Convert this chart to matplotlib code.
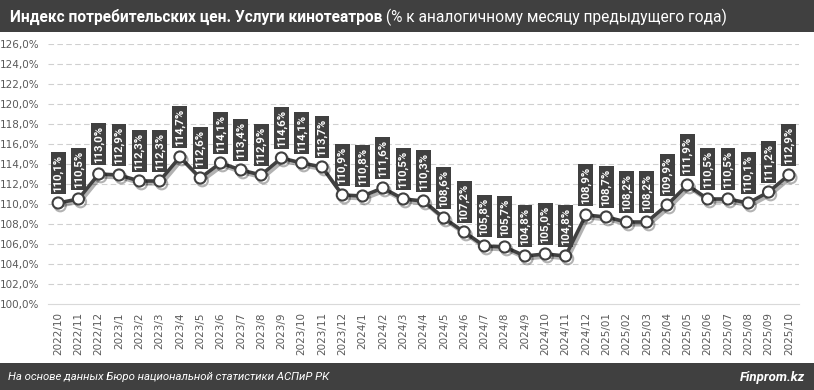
import matplotlib
matplotlib.use("Agg")
import matplotlib.pyplot as plt
import matplotlib.patheffects as pe
from matplotlib.patches import Rectangle

months = ["2022/10", "2022/11", "2022/12",
          "2023/1", "2023/2", "2023/3", "2023/4", "2023/5", "2023/6", "2023/7", "2023/8",
          "2023/9", "2023/10", "2023/11", "2023/12",
          "2024/1", "2024/2", "2024/3", "2024/4", "2024/5", "2024/6", "2024/7", "2024/8",
          "2024/9", "2024/10", "2024/11", "2024/12",
          "2025/01", "2025/02", "2025/03", "2025/04", "2025/05", "2025/06", "2025/07",
          "2025/08", "2025/09", "2025/10"]
values = [110.1, 110.5, 113.0, 112.9, 112.3, 112.3, 114.7, 112.6, 114.1, 113.4, 112.9,
          114.6, 114.1, 113.7, 110.9, 110.8, 111.6, 110.5, 110.3, 108.6, 107.2, 105.8,
          105.7, 104.8, 105.0, 104.8, 108.9, 108.7, 108.2, 108.2, 109.9, 111.9, 110.5,
          110.5, 110.1, 111.2, 112.9]
yticks = list(range(100, 127, 2))

title_bold = "Индекс потребительских цен. Услуги кинотеатров"
title_rest = " (% к аналогичному месяцу предыдущего года)"
source = "На основе данных Бюро национальной статистики АСПиР РК"
brand = "Finprom.kz"

DARK = "#404040"
W, H = 814, 390
fig = plt.figure(figsize=(W / 100, H / 100), dpi=100)
fig.patch.set_facecolor("white")

# header and footer bars
fig.patches.append(Rectangle((0, 1 - 32 / H), 1, 32 / H, transform=fig.transFigure,
                             facecolor=DARK, edgecolor="none", zorder=0))
fig.patches.append(Rectangle((0, 0), 1, 27 / H, transform=fig.transFigure,
                             facecolor=DARK, edgecolor="none", zorder=0))

ax = fig.add_axes([48 / W, 1 - 304 / H, (799 - 48) / W, (304 - 44) / H])
x = list(range(len(values)))
ax.set_xlim(-0.5, len(values) - 0.5)
ax.set_ylim(100, 126)
ax.set_yticks(yticks)
ax.set_yticklabels([f"{v:.1f}%".replace(".", ",") for v in yticks])
ax.set_xticks(x)
ax.set_xticklabels(months, rotation=90)
ax.tick_params(axis="both", length=0, labelsize=7.5, labelcolor="#595959")
ax.tick_params(axis="y", pad=6)
ax.tick_params(axis="x", pad=6)
for s in ["top", "right", "left"]:
    ax.spines[s].set_visible(False)
ax.spines["bottom"].set_color("#d9d9d9")
for v in yticks[1:]:
    ax.axhline(v, color="#d0d0d0", lw=0.8, ls=(0, (5, 3)), zorder=0)

shadow = [pe.SimpleLineShadow(offset=(1.5, -2.0), shadow_color="black", alpha=0.3, rho=0.3),
          pe.Normal()]
ax.plot(x, values, color=DARK, lw=2.6, zorder=3, path_effects=shadow)
ax.plot(x, values, ls="none", marker="o", ms=8, mfc="white", mec=DARK, mew=1.5,
        zorder=4, path_effects=shadow)

for xi, v in zip(x, values):
    ax.annotate(f"{v:.1f}%".replace(".", ","), (xi, v), xytext=(0, 8),
                textcoords="offset points", rotation=90, ha="center", va="bottom",
                fontsize=8.2, fontweight="bold", family="Roboto", color="white", zorder=5,
                bbox=dict(boxstyle="square,pad=0.2", facecolor=DARK, edgecolor="none"))

# title
t1 = fig.text(10 / W, 1 - 17 / H, title_bold, color="white", fontsize=11.2,
              fontweight="bold", family="Roboto", va="center", ha="left")
fig.canvas.draw()
bb = t1.get_window_extent()
fig.text(bb.x1 / W, 1 - 17 / H, title_rest, color="white", fontsize=11.2,
         family="Roboto", va="center", ha="left")

fig.text(8 / W, 13 / H, source, color="white", fontsize=8.2, style="italic",
         family="Roboto", va="center", ha="left")
fig.text(805 / W, 13 / H, brand, color="white", fontsize=9.5, style="italic",
         fontweight="bold", family="Roboto", va="center", ha="right")

fig.savefig("out.png", dpi=100, facecolor="white")
